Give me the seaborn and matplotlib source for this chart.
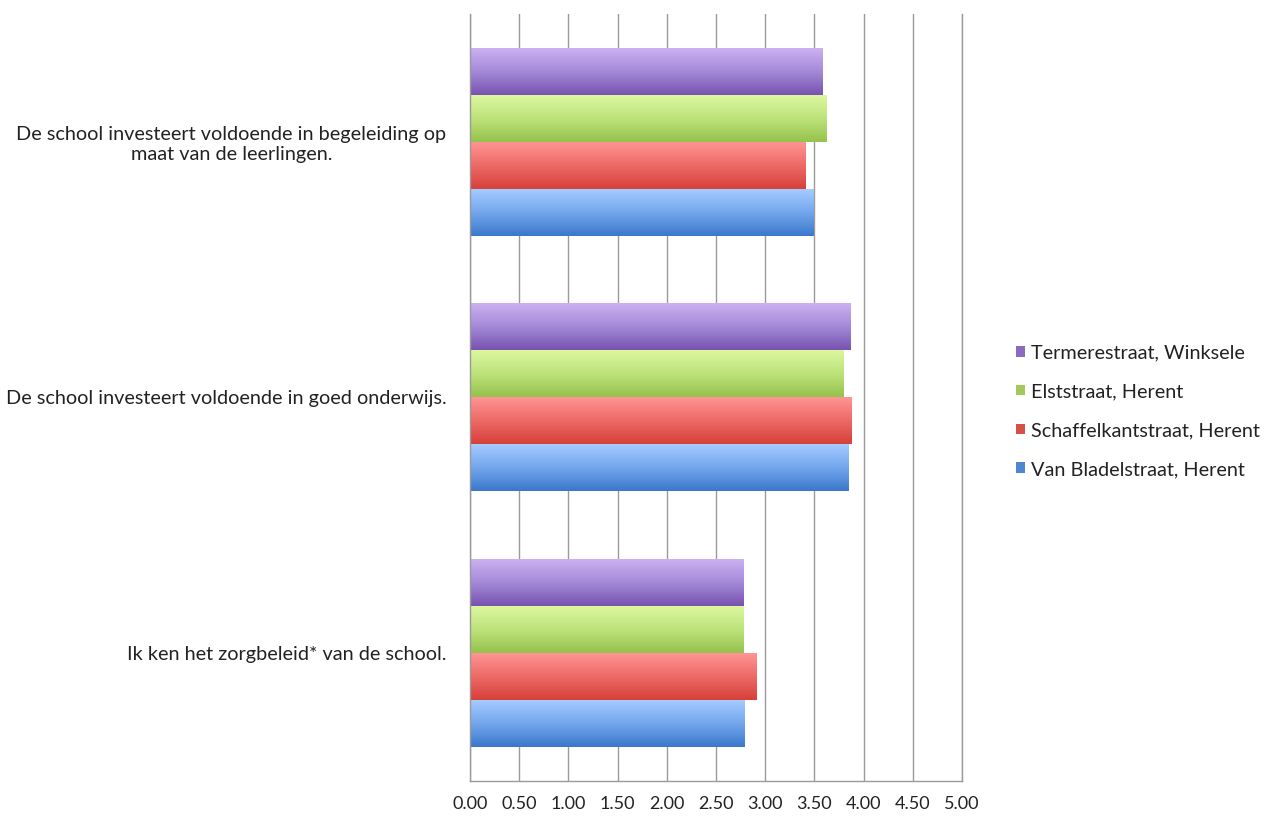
import numpy as np
import pandas as pd
import matplotlib
matplotlib.use("Agg")
import matplotlib.pyplot as plt
import seaborn as sns
from matplotlib.patches import Patch
from matplotlib.colors import to_rgb

# data
questions = [
    "De school investeert voldoende in begeleiding op\nmaat van de leerlingen.",
    "De school investeert voldoende in goed onderwijs.",
    "Ik ken het zorgbeleid* van de school.",
]
schools = [
    "Termerestraat, Winksele",
    "Elststraat, Herent",
    "Schaffelkantstraat, Herent",
    "Van Bladelstraat, Herent",
]
termerestraat = [3.58, 3.87, 2.78]
elststraat = [3.62, 3.80, 2.78]
schaffelkantstraat = [3.41, 3.88, 2.91]
van_bladelstraat = [3.49, 3.85, 2.79]
x_ticks = [0, 0.5, 1, 1.5, 2, 2.5, 3, 3.5, 4, 4.5, 5]

base_colors = ["#8a6bc0", "#a3c95c", "#d4504a", "#4f86d0"]
# top / middle / bottom of the gradient on each bar
grad_colors = [
    ["#cbb0f2", "#a489d8", "#7853b0"],
    ["#dcf7a0", "#bde27a", "#96c24c"],
    ["#ff9494", "#ee6a66", "#d6403a"],
    ["#a5cbff", "#73a6ec", "#3b78cc"],
]

values = [termerestraat, elststraat, schaffelkantstraat, van_bladelstraat]
rows = []
for s, vals in zip(schools, values):
    for q, v in zip(questions, vals):
        rows.append({"vraag": q, "school": s, "score": v})
df = pd.DataFrame(rows)

sns.set_style("white")
plt.rcParams["font.family"] = ["Lato", "DejaVu Sans"]

fig = plt.figure(figsize=(12.73, 8.19), dpi=100)
ax = fig.add_axes([0.3692, 0.0464, 0.3865, 0.9366])

sns.barplot(data=df, x="score", y="vraag", hue="school", order=questions,
            hue_order=schools, palette=base_colors, orient="h", width=0.735,
            ax=ax, legend=False, saturation=1)

# gradient fill like the spreadsheet bars
for cont, cols in zip(ax.containers, grad_colors):
    stops = np.array([to_rgb(c) for c in cols])
    t = np.linspace(0, 1, 64)
    grad = np.vstack([np.interp(t, [0, 0.5, 1], stops[:, k]) for k in range(3)]).T
    grad = grad.reshape(64, 1, 3)
    for bar in cont:
        x0, y0 = bar.get_x(), bar.get_y()
        w, h = bar.get_width(), bar.get_height()
        bar.set_facecolor("none")
        bar.set_edgecolor("none")
        ax.imshow(grad, extent=(x0, x0 + w, y0 + h, y0), origin="upper",
                  aspect="auto", zorder=2, interpolation="bilinear")

ax.set_xlim(0, 5)
ax.set_ylim(2.5, -0.5)
ax.set_xticks(x_ticks)
ax.set_xticklabels([f"{v:.2f}" for v in x_ticks], fontsize=13, color="#222222")
ax.set_yticks(range(len(questions)))
ax.set_yticklabels(questions, fontsize=14.3, color="#222222", multialignment="center")
ax.set_yticks([-0.5, 0.5, 1.5, 2.5], minor=True)
ax.tick_params(axis="y", which="major", length=0, pad=17)
ax.tick_params(axis="y", which="minor", length=6, color="#999999", width=1)
ax.tick_params(axis="x", which="major", length=5, color="#999999", width=1, pad=6)
ax.set_xlabel("")
ax.set_ylabel("")

ax.grid(axis="x", color="#9a9a9a", linewidth=1)
ax.set_axisbelow(True)
ax.spines["top"].set_visible(False)
for side in ["left", "bottom", "right"]:
    ax.spines[side].set_color("#9a9a9a")
    ax.spines[side].set_linewidth(1)

handles = [Patch(facecolor=c, edgecolor="none") for c in base_colors]
fig.legend(handles, schools, loc="center left", bbox_to_anchor=(0.784, 0.498),
           frameon=False, fontsize=14.3, handlelength=0.45, handleheight=0.45,
           handletextpad=0.3, labelspacing=1.1, labelcolor="#222222")

fig.savefig("out.png", dpi=100)
